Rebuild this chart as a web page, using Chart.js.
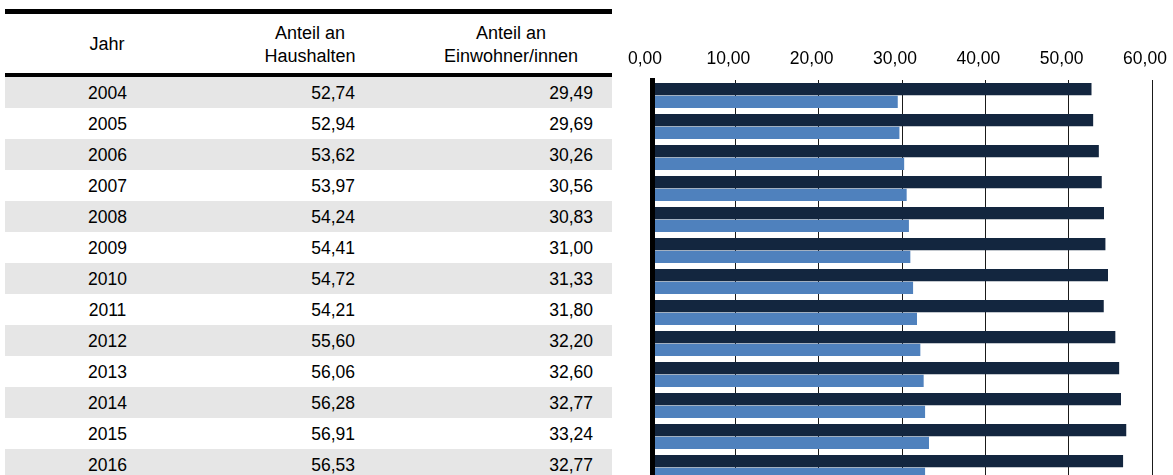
<!DOCTYPE html>
<html><head><meta charset="utf-8">
<script src="https://cdn.jsdelivr.net/npm/chart.js@4/dist/chart.umd.min.js"></script>
<style>
html,body{margin:0;padding:0;background:#fff;overflow:hidden;width:1173px;height:475px;}
body{font-family:"Liberation Sans",Arial,sans-serif;font-size:17.5px;color:#000;position:relative;}
.rule{position:absolute;background:#000;left:5px;width:607px;}
.row{position:absolute;left:5px;width:607px;height:31px;}
.cell{position:absolute;top:0;height:31px;line-height:31px;white-space:nowrap;}
.hdr{position:absolute;text-align:center;line-height:23px;white-space:nowrap;width:240px;font-size:18px;}
#wrap{position:absolute;left:600px;top:0;width:573px;height:490px;}
</style></head><body>
<div id="table"></div>
<div id="wrap"><canvas id="c" width="573" height="490"></canvas></div>
<script>
const years = [2004, 2005, 2006, 2007, 2008, 2009, 2010, 2011, 2012, 2013, 2014, 2015, 2016];
const haushalte = [52.74, 52.94, 53.62, 53.97, 54.24, 54.41, 54.72, 54.21, 55.60, 56.06, 56.28, 56.91, 56.53];
const einwohner = [29.49, 29.69, 30.26, 30.56, 30.83, 31.00, 31.33, 31.80, 32.20, 32.60, 32.77, 33.24, 32.77];
const headers = ["Jahr", "Anteil an\nHaushalten", "Anteil an\nEinwohner/innen"];
const fmt = v => Number(v).toFixed(2).replace('.', ',');

// ---- table ----
const t = document.getElementById('table');
function add(parent, cls, css, text){
  const d = document.createElement('div');
  d.className = cls; Object.assign(d.style, css);
  if (text !== undefined) d.textContent = text;
  parent.appendChild(d); return d;
}
add(t, 'rule', {top:'9px', height:'5px'});
add(t, 'rule', {top:'73px', height:'4px'});
const hdrCenters = [107, 310, 511];
headers.forEach((h, i) => {
  const lines = h.split('\n');
  const d = add(t, 'hdr', {left:(hdrCenters[i]-120)+'px', top:(lines.length===1 ? 32.5 : 21.5)+'px'});
  d.innerHTML = lines.join('<br>');
});
years.forEach((y, i) => {
  const r = add(t, 'row', {top:(77 + 31*i)+'px', background: i % 2 === 0 ? '#e6e6e6' : '#fff'});
  add(r, 'cell', {left:'0px', width:'205px', textAlign:'center', top:'1px'}, String(y));
  add(r, 'cell', {left:'200px', width:'150px', textAlign:'right', top:'1px'}, fmt(haushalte[i]));
  add(r, 'cell', {left:'400px', width:'188px', textAlign:'right', top:'1px'}, fmt(einwohner[i]));
});

// ---- chart ----
const FONT = {family:'"Liberation Sans", Arial, sans-serif', size:17.5};
new Chart(document.getElementById('c'), {
  type:'bar',
  data:{
    labels: years.map(String),
    datasets:[
      {label:'Anteil an Haushalten', data:haushalte, backgroundColor:'#13263f', categoryPercentage:0.81, barPercentage:0.98},
      {label:'Anteil an Einwohner/innen', data:einwohner, backgroundColor:'#4f81bd', categoryPercentage:0.81, barPercentage:0.98}
    ]
  },
  options:{
    indexAxis:'y',
    responsive:false,
    animation:false,
    devicePixelRatio:1,
    layout:{padding:{left:52, right:21, top:0, bottom:7}},
    plugins:{legend:{display:false}, tooltip:{enabled:false}},
    scales:{
      x:{
        position:'top', min:0, max:60,
        ticks:{stepSize:10, callback:v=>fmt(v), font:FONT, color:'#000', padding:10, labelOffset:-7, maxRotation:0, autoSkip:false},
        grid:{color:'#1a1a1a', lineWidth:1, drawTicks:false},
        border:{display:false},
        afterFit: s => { s.height = 80; s.paddingLeft = 0; s.paddingRight = 0; }
      },
      y:{
        ticks:{display:false},
        grid:{display:false, drawTicks:false},
        border:{display:true, color:'#000', width:5, z:1},
        afterFit: s => { s.width = 0; s.paddingTop = 0; s.paddingBottom = 0; }
      }
    }
  }
});
</script>
</body></html>
